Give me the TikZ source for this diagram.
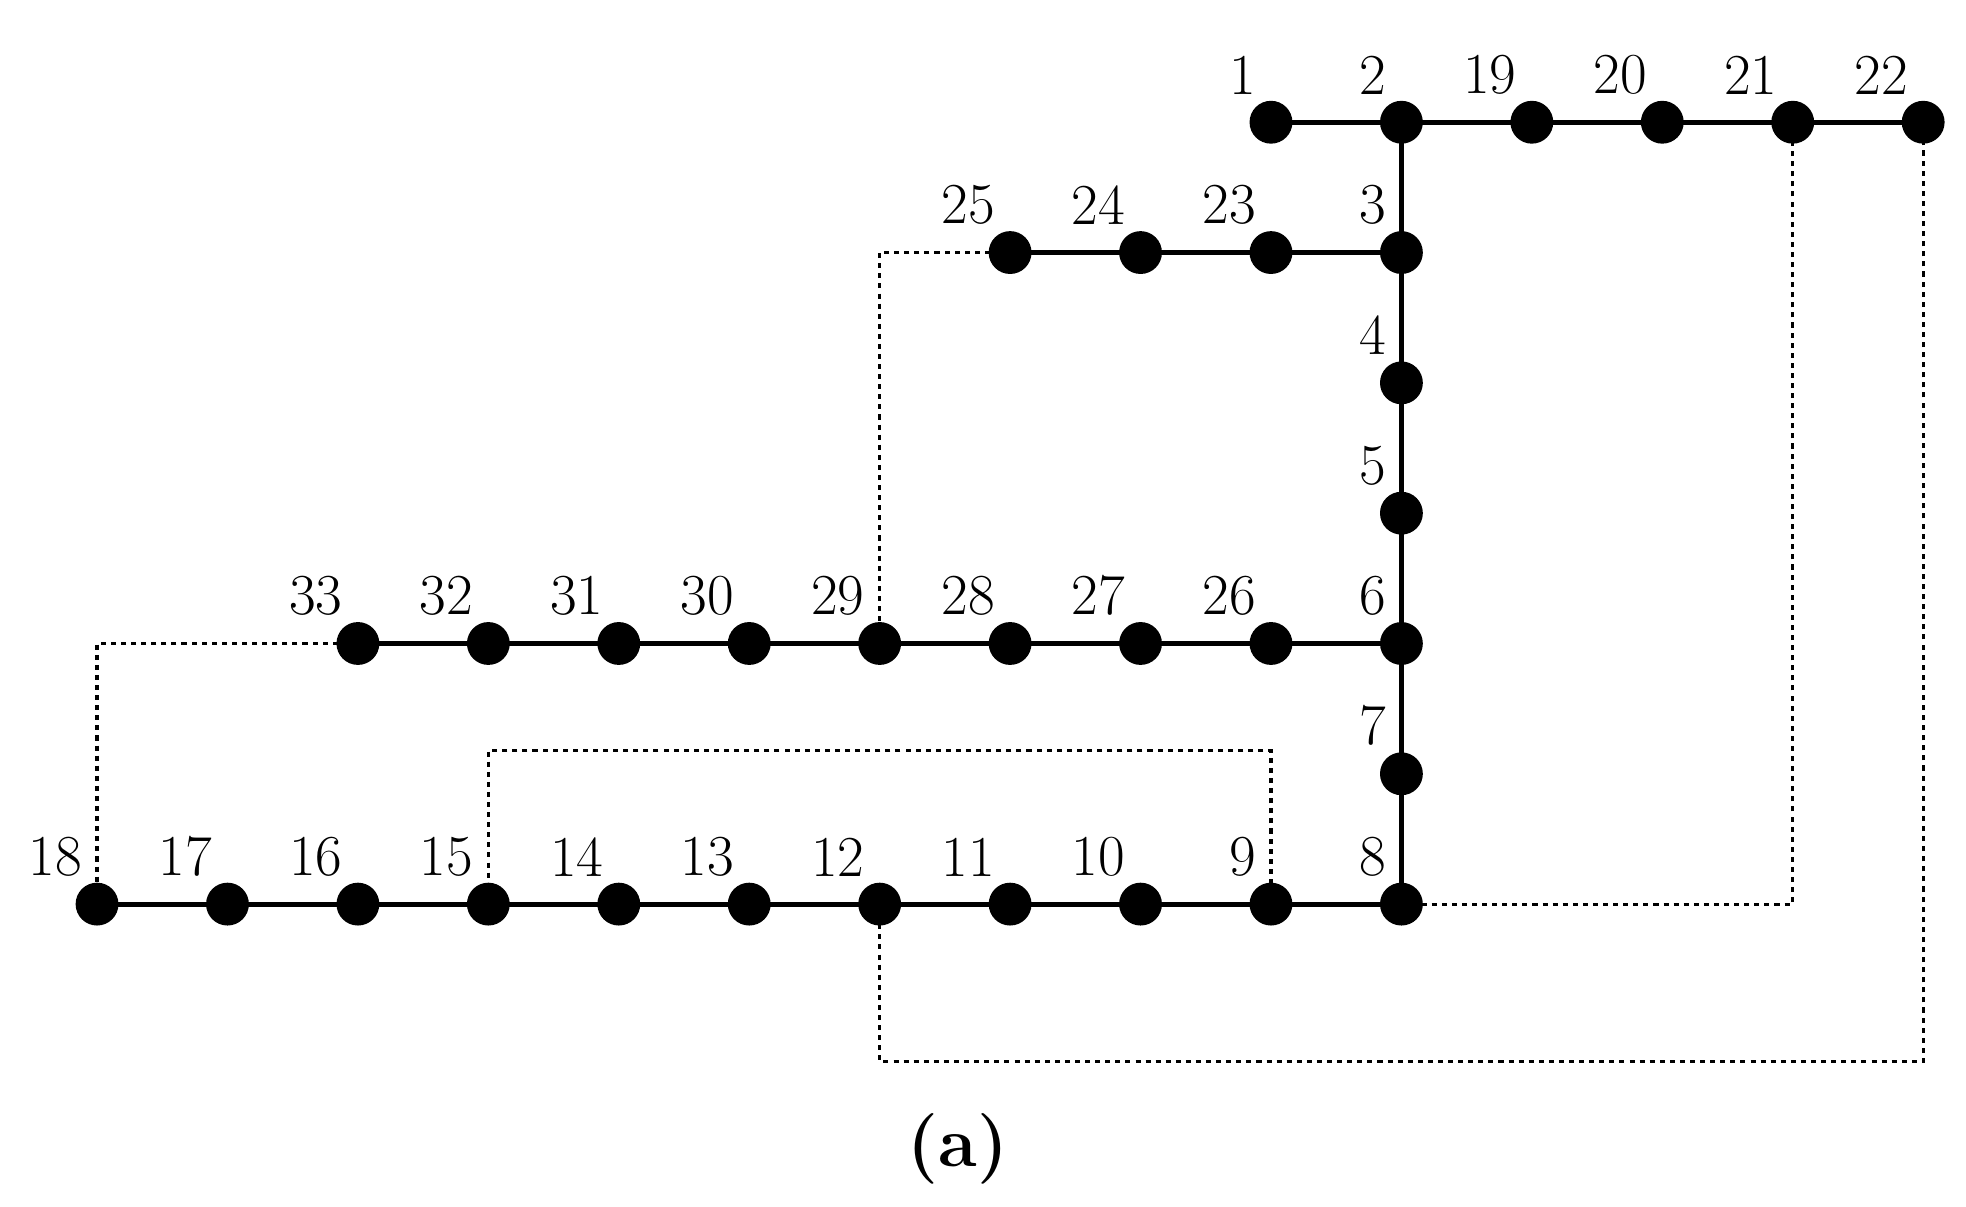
\documentclass[tikz,border=0pt]{standalone}
\begin{document}
\begin{tikzpicture}[x=1pt,y=-1pt,
  bus/.style={circle,fill=black,inner sep=0pt,minimum size=34pt},
  lab/.style={anchor=south east,inner sep=0pt,font=\fontsize{46}{50}\selectfont},
  line/.style={line width=4pt},
  tie/.style={line width=2.5pt,dash pattern=on 4pt off 4pt}]
\useasboundingbox (0,0) rectangle (1560,957);
\foreach \n/\c/\r in {1/9/0,2/10/0,19/11/0,20/12/0,21/13/0,22/14/0,
  25/7/1,24/8/1,23/9/1,3/10/1,4/10/2,5/10/3,
  33/2/4,32/3/4,31/4/4,30/5/4,29/6/4,28/7/4,27/8/4,26/9/4,6/10/4,7/10/5,
  18/0/6,17/1/6,16/2/6,15/3/6,14/4/6,13/5/6,12/6/6,11/7/6,10/8/6,9/9/6,8/10/6}{
  \coordinate (p\n) at ({77+103.5*\c},{97+103.4*\r});
  \node[lab] (l\n) at ([xshift=-12pt,yshift=22pt]p\n) {\n};
}
\draw[tie] (p25) -| (p29);
\draw[tie] (p33) -| (p18);
\draw[tie] (p9) -- ++(0,-122) -| (p15);
\draw[tie] (p8) -| (p21);
\draw[tie] (p12) -- ++(0,125) -| (p22);
\draw[line] (p1) -- (p22);
\draw[line] (p25) -- (p3);
\draw[line] (p2) -- (p8);
\draw[line] (p33) -- (p6);
\draw[line] (p18) -- (p8);
\foreach \n in {1,2,19,20,21,22,25,24,23,3,4,5,33,32,31,30,29,28,27,26,6,7,18,17,16,15,14,13,12,11,10,9,8}
  \node[bus] (b\n) at (p\n) {};
\node[font=\fontsize{56}{60}\selectfont\bfseries] (cap) at (760,912) {(a)};
\end{tikzpicture}
\end{document}
